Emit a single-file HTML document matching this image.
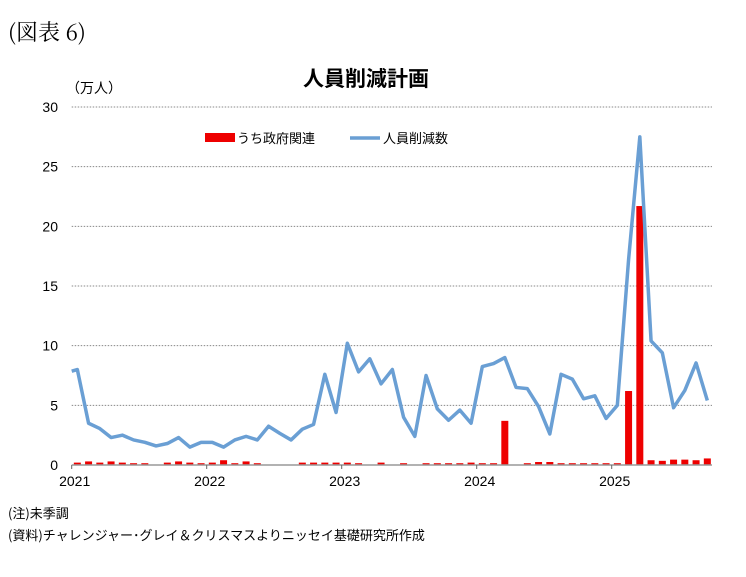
<!DOCTYPE html>
<html><head><meta charset="utf-8"><style>
body{margin:0;background:#fff;width:746px;height:572px;overflow:hidden;font-family:"Liberation Sans","Noto Sans CJK JP",sans-serif;}
</style></head><body>
<svg width="746" height="572" xmlns="http://www.w3.org/2000/svg">
<text x="8" y="40" font-family="'Noto Serif CJK SC',serif" font-size="22" fill="#000">(図表 6)</text>
<text x="366" y="86" text-anchor="middle" font-size="21" font-weight="bold" fill="#000" font-family="'Noto Sans CJK JP',sans-serif">人員削減計画</text>
<text x="66" y="93" font-size="14" fill="#000" font-family="'Noto Sans CJK JP',sans-serif">（万人）</text>
<g id="grid"></g><g id="bars"></g><g id="line"></g><g id="axis"></g>
<g>
<rect x="205" y="133" width="30" height="9" fill="#e00"/>
<text x="237" y="143" font-size="13" font-family="'Noto Sans CJK JP',sans-serif">うち政府関連</text>
<line x1="350" y1="138" x2="380" y2="138" stroke="#6a9fd4" stroke-width="3.5"/>
<text x="383" y="143" font-size="13" font-family="'Noto Sans CJK JP',sans-serif">人員削減数</text>
</g>
<text x="8" y="518" font-size="13" font-family="'Noto Sans CJK JP',sans-serif">(注)未季調</text>
<text x="8" y="540" font-size="13" font-family="'Noto Sans CJK JP',sans-serif">(資料)チャレンジャー･グレイ＆クリスマスよりニッセイ基礎研究所作成</text>
</svg>
<script>
const yTicks=[0,5,10,15,20,25,30];
const yearLabels=["2021","2022","2023","2024","2025"];
const startValue=7.86;
const totalCuts=[8.0,3.5,3.05,2.3,2.5,2.1,1.9,1.6,1.8,2.3,1.5,1.9,
1.9,1.5,2.1,2.4,2.1,3.25,2.65,2.1,3.0,3.4,7.6,4.4,
10.2,7.8,8.9,6.8,8.0,4.0,2.4,7.5,4.7,3.75,4.6,3.5,
8.25,8.5,9.0,6.5,6.4,4.9,2.6,7.6,7.2,5.55,5.8,3.9,
5.0,17.2,27.5,10.4,9.4,4.8,6.25,8.55,5.4];
const govCuts=[0.2,0.3,0.2,0.3,0.2,0.15,0.15,0,0.2,0.3,0.2,0.15,
0.2,0.4,0.15,0.3,0.15,0,0,0,0.2,0.2,0.2,0.2,
0.2,0.15,0,0.2,0,0.15,0,0.15,0.15,0.15,0.15,0.2,
0.15,0.15,3.7,0,0.15,0.25,0.25,0.15,0.15,0.15,0.15,0.15,
0.15,6.2,21.7,0.4,0.35,0.45,0.45,0.4,0.55];
const NS="http://www.w3.org/2000/svg";
const x0=71.7,mw=11.25,yBase=465,yTop=107,yMax=30,plotR=712;
const X=i=>x0+(i+0.5)*mw;
const Y=v=>yBase-(v/yMax)*(yBase-yTop);
function mk(t,a,p){const e=document.createElementNS(NS,t);for(const k in a)e.setAttribute(k,a[k]);p.appendChild(e);return e;}
const g=document.getElementById('grid'),b=document.getElementById('bars'),l=document.getElementById('line'),ax=document.getElementById('axis');
yTicks.forEach(v=>{
 if(v>0){const gl=mk('line',{x1:x0,x2:plotR,y1:Y(v),y2:Y(v),stroke:'#888','stroke-dasharray':'1.5,1.5','stroke-width':1},g);
 
 }
 const t=mk('text',{x:58,y:Y(v)+5,'text-anchor':'end','font-size':14},ax);t.textContent=v;
 
 
});
govCuts.forEach((v,i)=>{if(v<=0)return;
 const r=mk('rect',{x:X(i)-3.5,y:Y(v),width:7,height:yBase-Y(v),fill:'#e00'},b);
 
 });
let pts=[[x0,Y(startValue)]].concat(totalCuts.map((v,i)=>[X(i),Y(v)]));
const pl=mk('polyline',{points:pts.map(p=>p.join(',')).join(' '),fill:'none',stroke:'#6a9fd4','stroke-width':3.5,'stroke-linejoin':'round'},l);


const xl=mk('line',{x1:x0,x2:plotR,y1:yBase,y2:yBase,stroke:'#999','stroke-width':1.5},ax);


yearLabels.forEach((s,k)=>{const x=x0+k*12*mw;
 mk('line',{x1:x,x2:x,y1:yBase,y2:yBase+4,stroke:'#666'},ax);
 const t=mk('text',{x:x+3,y:486,'text-anchor':'middle','font-size':14},ax);t.textContent=s;
 
 });
</script>
</body></html>
